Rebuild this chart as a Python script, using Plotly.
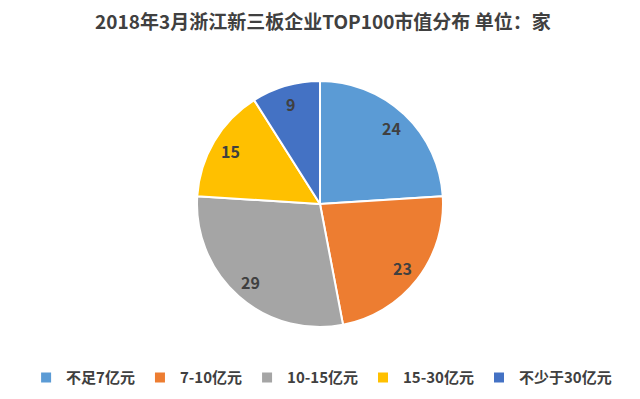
import math
import plotly.graph_objects as go

categories = ["不足7亿元", "7-10亿元", "10-15亿元", "15-30亿元", "不少于30亿元"]
values = [24, 23, 29, 15, 9]
colors = ["#5B9BD5", "#ED7D31", "#A5A5A5", "#FFC000", "#4472C4"]

font_family = "Noto Sans CJK SC, Noto Sans, sans-serif"
W, H = 640, 399
# pie geometry in figure pixels (page body has an 8px offset)
cx_px, cy_px, R_px = 312, 196, 123
label_r = 0.85 * R_px

fig = go.Figure(go.Pie(
    labels=categories,
    values=values,
    sort=False,
    direction="clockwise",
    rotation=0,
    marker=dict(colors=colors, line=dict(color="white", width=2)),
    textinfo="none",
    domain=dict(x=[(cx_px - R_px) / W, (cx_px + R_px) / W],
                y=[1 - (cy_px + R_px) / H, 1 - (cy_px - R_px) / H]),
    hoverinfo="label+value",
))

total = sum(values)
cum = 0
for v in values:
    mid = (cum + v / 2) / total * 2 * math.pi
    cum += v
    x = (cx_px + label_r * math.sin(mid)) / W
    y = 1 - (cy_px - label_r * math.cos(mid)) / H
    fig.add_annotation(x=x, y=y, xref="paper", yref="paper", text=f"<b>{v}</b>",
                       showarrow=False, xanchor="center", yanchor="middle",
                       font=dict(size=16, color="#404040", family=font_family))

fig.update_layout(
    width=W, height=H,
    margin=dict(l=0, r=0, t=0, b=0),
    paper_bgcolor="white",
    title=dict(text="<b>2018年3月浙江新三板企业TOP100市值分布 单位：家</b>",
               x=0.492, xanchor="center", y=0.965, yanchor="middle",
               font=dict(size=19, color="#404040", family=font_family)),
    legend=dict(orientation="h", x=0.49, xanchor="center", y=0.073, yanchor="middle",
                font=dict(size=15, color="#404040", family=font_family, weight="bold"),
                traceorder="normal"),
    showlegend=True,
)

fig.write_html("out.html")
